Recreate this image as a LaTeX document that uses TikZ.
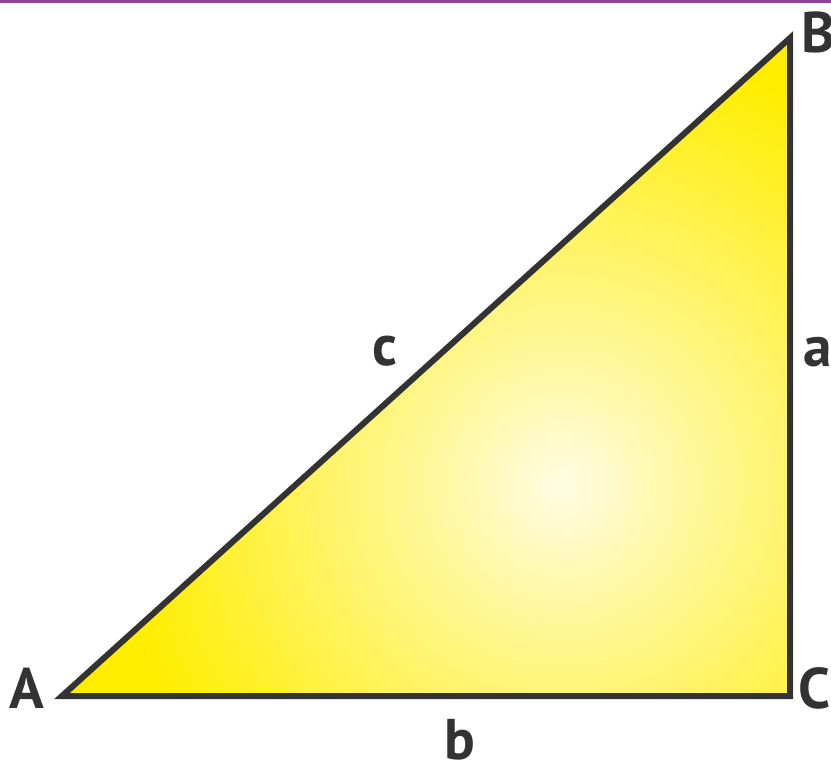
\documentclass[tikz,border=0pt]{standalone}
\usepackage{fontspec}
\setmainfont{PT Sans}
\definecolor{triyellow}{HTML}{FFED00}
\definecolor{tricenter}{HTML}{FFFCE4}
\definecolor{trimid}{HTML}{FFF79A}
\definecolor{edgegray}{HTML}{333333}
\definecolor{topline}{HTML}{93409A}
\pgfdeclareradialshading{trishade}{\pgfpoint{0bp}{0bp}}{%
  color(0bp)=(tricenter); color(6bp)=(trimid); color(20bp)=(triyellow); color(50bp)=(triyellow)}
\tikzset{
  lbl/.style={inner sep=0pt, anchor=base west, text=edgegray, font=\fontsize{43}{45}\selectfont\bfseries},
  edge/.style={draw=edgegray, line width=4.5pt, line join=miter, miter limit=20}
}
\begin{document}
\begin{tikzpicture}[x=0.75pt,y=-0.75pt]
\useasboundingbox (0,0) rectangle (831,763);
\clip (0,0) rectangle (831,763);
\fill[topline] (0,0) rectangle (831,3);
\coordinate (A) at (62,696);
\coordinate (B) at (790,38);
\coordinate (C) at (790,696);
\begin{scope}
  \clip (A) -- (B) -- (C) -- cycle;
  \fill[triyellow] (0,0) rectangle (831,763);
  \shade[shading=trishade] (562,485) circle (560);
\end{scope}
\draw[edge] (A) -- (B) -- (C) -- cycle;
\node[lbl] (lA) at (9,708) {A};
\node[lbl] (lB) at (801,53) {B};
\node[lbl] (lC) at (798,708) {C};
\node[lbl] (la) at (803,366) {a};
\node[lbl] (lc) at (372,365) {c};
\node[lbl] (lb) at (444,759) {b};
\end{tikzpicture}
\end{document}
